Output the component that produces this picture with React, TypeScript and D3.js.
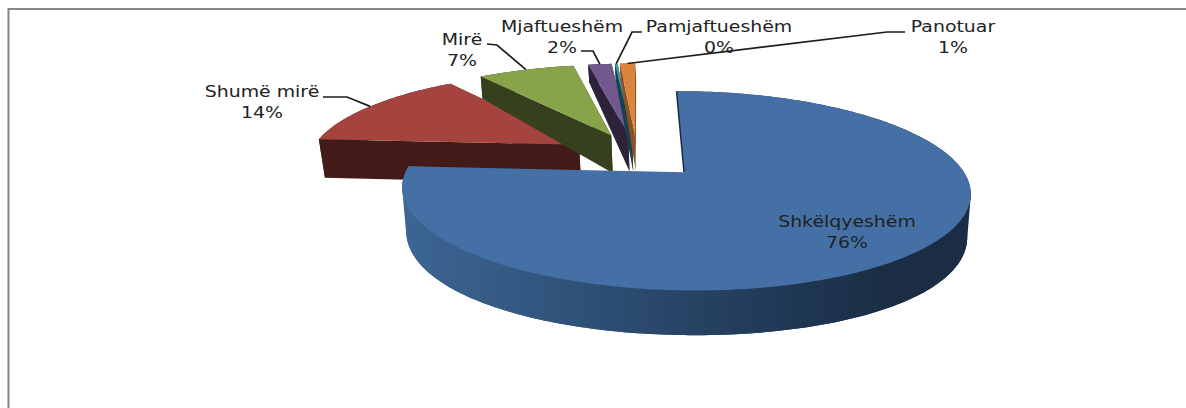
import React from "react";
import * as d3 from "d3";

// chart values
const categories = ["Shkëlqyeshëm", "Shumë mirë", "Mirë", "Mjaftueshëm", "Pamjaftueshëm", "Panotuar"];
const values = [76, 14, 7, 1.7, 0.2, 1.1];

const topColors = ["#4570a6", "#a5443f", "#87a44b", "#71588f", "#3f97af", "#db843d"];
const wallColors = ["#1a2d45", "#421b18", "#36401d", "#2c2239", "#17414d", "#8a5020"];

// label placement: centre x, y of first baseline, leader elbow (null = no leader)
const labelX = [847, 262, 462, 562, 719, 953];
const labelY = [227, 97, 45, 32, 32, 32];
const elbowFrom = [null, [323, 97], [487, 44], [581, 51], [642, 32], [905, 32]];
const elbowAt = [null, [347, 97], [497, 45], [593, 51], [632, 32], [887, 32]];

const width = 1186;
const height = 408;
const explode = 0.25;

// perspective projection of the pie's top and bottom planes
const plane = (cx, cy, sx, sy, px, py) => ([u, v]) => [
  cx + (sx * u) / (1 - px * v),
  cy + (sy * v) / (1 - py * v),
];
const topPlane = plane(637, 155.3, 270, 90, 0.18, 0.18);
const bottomPlane = plane(638, 196.3, 265, 103.6, 0.165, 0.1);
const mainBottomPlane = plane(638, 196.3, 268, 103.6, 0.165, 0.1); // the front slice's rim sits wider

const pie = d3.pie().sort(null).startAngle(0).endAngle(2 * Math.PI);
const arcs = pie(values);
const line = d3.line();
const closed = d3.line().curve(d3.curveLinearClosed);

const slices = arcs.map((a, i) => {
  const mid = (a.startAngle + a.endAngle) / 2;
  const ox = explode * Math.sin(mid);
  const oy = -explode * Math.cos(mid);
  const polar = (t, r = 1) => [ox + r * Math.sin(t), oy - r * Math.cos(t)];
  const n = Math.max(2, Math.ceil((a.endAngle - a.startAngle) / 0.02));
  const angles = d3.range(n + 1).map((k) => a.startAngle + ((a.endAngle - a.startAngle) * k) / n);
  const rim = angles.map((t) => polar(t));
  const apex = polar(0, 0);
  const low = i === 0 ? mainBottomPlane : bottomPlane;
  // front part of the rim only, so the hull stays under the top face
  const frontRim = angles.filter((t) => t >= Math.PI * 0.56).map((t) => polar(t));
  return {
    i,
    mid,
    top: [apex, ...rim].map(topPlane),
    wall: [...rim.map(topPlane), ...rim.map(low).reverse()],
    hull: d3.polygonHull([...frontRim.map(topPlane), ...frontRim.map(low)]),
    startFace: [polar(a.startAngle), apex].map(topPlane).concat([apex, polar(a.startAngle)].map(low)),
    endFace: [polar(a.endAngle), apex].map(topPlane).concat([apex, polar(a.endAngle)].map(low)),
    edge: [polar(a.startAngle), apex].map(topPlane),
    tip: topPlane(polar(mid)),
  };
});

// small slices first, the big front slice last
const drawOrder = [1, 2, 3, 4, 5, 0];
const pct = d3.format(".0%");
const font = "'DejaVu Sans', sans-serif";
const textStretch = 1.22; // the source image is stretched sideways

export default function App() {
  return (
    <svg
      width={width}
      height={height}
      style={{ position: "absolute", left: 0, top: 0, display: "block", background: "#fff" }}
    >
      <defs>
        <linearGradient id="mainWall" gradientUnits="userSpaceOnUse" x1="400" x2="970" y1="0" y2="0">
          <stop offset="0" stopColor="#3d6694" />
          <stop offset="0.3" stopColor="#2f5279" />
          <stop offset="0.6" stopColor="#233d5c" />
          <stop offset="0.85" stopColor="#1a2d45" />
          <stop offset="1" stopColor="#1a2d45" />
        </linearGradient>
      </defs>

      {/* frame, cut off at the right and bottom */}
      <path d="M8.5,408V9H1186" fill="none" stroke="#868686" strokeWidth={2} />

      {drawOrder.map((i) => {
        const s = slices[i];
        const wallFill = i === 0 ? "url(#mainWall)" : wallColors[i];
        return (
          <g key={categories[i]}>
            {i !== 0 && <path d={closed(s.endFace)} fill={wallFill} />}
            <path d={closed(s.wall)} fill={wallFill} />
            {i === 0 && <path d={closed(s.hull)} fill={wallFill} />}
            {i !== 0 && <path d={closed(s.startFace)} fill={wallFill} />}
            {i === 0 && <path d={line(s.edge)} fill="none" stroke={wallColors[0]} strokeWidth={3} />}
            <path d={closed(s.top)} fill={topColors[i]} />
          </g>
        );
      })}

      {slices.map((s) =>
        elbowFrom[s.i] ? (
          <path
            key={s.i}
            d={line([elbowFrom[s.i], elbowAt[s.i], s.tip])}
            fill="none"
            stroke="#1c1c1c"
            strokeWidth={1.7}
          />
        ) : null
      )}

      {categories.map((c, i) => (
        <text
          key={c}
          transform={`translate(${labelX[i]},${labelY[i]}) scale(${textStretch},1)`}
          textAnchor="middle"
          fontFamily={font}
          fontSize={15.5}
          fill="#222"
        >
          <tspan x={0}>{c}</tspan>
          <tspan x={0} dy={21}>
            {pct(values[i] / 100)}
          </tspan>
        </text>
      ))}
    </svg>
  );
}
